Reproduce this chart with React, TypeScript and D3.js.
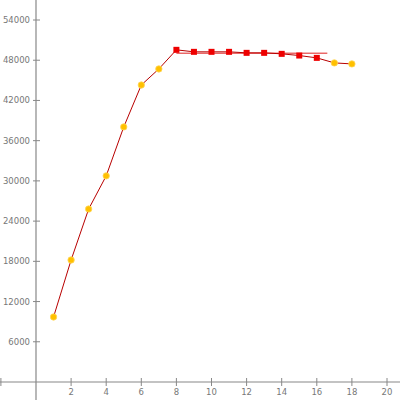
import React from "react";
import * as d3 from "d3";

const xValues = [1, 2, 3, 4, 5, 6, 7, 8, 9, 10, 11, 12, 13, 14, 15, 16, 17, 18];
const yValues = [9700, 18200, 25800, 30750, 38050, 44300, 46700, 49550, 49250, 49250, 49250, 49100, 49100, 48950, 48700, 48350, 47600, 47450];
const highlighted = [false, false, false, false, false, false, false, true, true, true, true, true, true, true, true, true, false, false];
const refX = [8, 16.6];
const refY = [49050, 49050];
const xTicks = [-2, 2, 4, 6, 8, 10, 12, 14, 16, 18, 20];
const yTicks = [6000, 12000, 18000, 24000, 30000, 36000, 42000, 48000, 54000];

export default function App() {
  const W = 400, H = 400;
  const x = d3.scaleLinear().domain([0, 20]).range([36, 387]);
  const y = d3.scaleLinear().domain([0, 54000]).range([382, 20]);
  const line = d3.line<number>().x((_, i) => x(xValues[i])).y((d) => y(d));
  const refLine = d3.line<number>().x((_, i) => x(refX[i])).y((d) => y(d));
  const axisColor = "#888";
  const font = "'DejaVu Sans', sans-serif";
  return (
    <svg width={W} height={H} style={{ position: "absolute", left: 0, top: 0, background: "#fff" }}>
      <line x1={x(0)} x2={x(0)} y1={0} y2={H} stroke={axisColor} strokeWidth={1.2} />
      <line x1={0} x2={W} y1={y(0)} y2={y(0)} stroke={axisColor} strokeWidth={1.2} />
      {yTicks.map((t) => (
        <g key={"y" + t}>
          <line x1={x(0) - 3} x2={x(0) + 4} y1={y(t)} y2={y(t)} stroke={axisColor} strokeWidth={1} />
          <text x={x(0) - 6} y={y(t) + 3} fontSize={8.5} fill="#777" textAnchor="end" fontFamily={font}>
            {t}
          </text>
        </g>
      ))}
      {xTicks.map((t) => (
        <g key={"x" + t}>
          <line x1={x(t)} x2={x(t)} y1={y(0) - 4} y2={y(0) + 4} stroke={axisColor} strokeWidth={1} />
          {t !== -2 && (
            <text x={x(t)} y={y(0) + 13} fontSize={8.5} fill="#777" textAnchor="middle" fontFamily={font}>
              {t}
            </text>
          )}
        </g>
      ))}
      <path d={refLine(refY) || ""} fill="none" stroke="#e02020" strokeWidth={1} />
      <path d={line(yValues) || ""} fill="none" stroke="#b80000" strokeWidth={1} />
      {yValues.map((v, i) =>
        highlighted[i] ? (
          <rect key={"p" + i} x={x(xValues[i]) - 3} y={y(v) - 3} width={6} height={6} fill="#ee0000" />
        ) : (
          <circle key={"p" + i} cx={x(xValues[i])} cy={y(v)} r={3.2} fill="#ffc000" stroke="#ffd75a" strokeWidth={0.8} />
        )
      )}
    </svg>
  );
}
